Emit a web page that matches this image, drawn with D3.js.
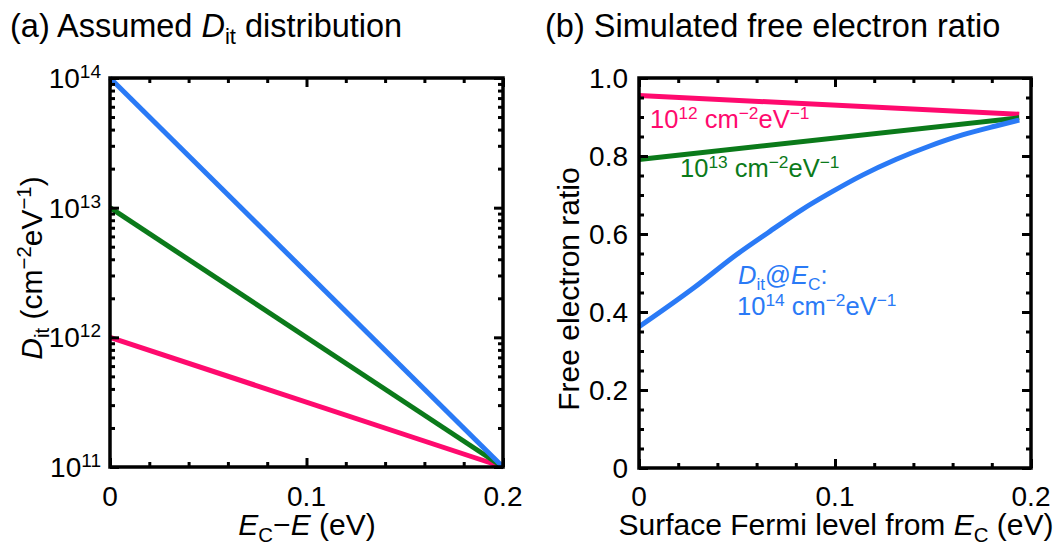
<!DOCTYPE html>
<html>
<head>
<meta charset="utf-8">
<script src="https://cdn.jsdelivr.net/npm/d3@7"></script>
<style>
  body { margin: 0; background: #fff; }
  svg { font-family: "Liberation Sans", Arial, sans-serif; }
</style>
</head>
<body>
<div id="chart"></div>
<script>
// ---- data ----
// panel (a): Dit vs EC-E, straight lines on the log axis
const energyA = [0, 0.2];
const ditPink = [1e12, 1e11];
const ditGreen = [1e13, 1e11];
const ditBlue = [1e14, 1e11];
const logTickValues = [1e11, 1e12, 1e13, 1e14];
const logTickExp = ["11", "12", "13", "14"];

// panel (b): free electron ratio vs surface Fermi level
const fermiEnds = [0, 0.194];
const ratioPink = [0.955, 0.907];
const ratioGreen = [0.791, 0.898];
const fermiBlue = [0, 0.028, 0.050, 0.066, 0.083, 0.097, 0.114, 0.131, 0.148, 0.165, 0.182, 0.194];
const ratioBlue = [0.362, 0.462, 0.548, 0.604, 0.662, 0.704, 0.751, 0.791, 0.825, 0.854, 0.877, 0.892];
const ratioTicks = [0, 0.2, 0.4, 0.6, 0.8, 1.0];
const ratioTickLabels = ["0", "0.2", "0.4", "0.6", "0.8", "1.0"];

const xTicks = [0, 0.1, 0.2];
const xTickLabels = ["0", "0.1", "0.2"];

const pink = "#ff0a6e", green = "#0b7a1a", blue = "#2a7af6";

const W = 1057, H = 546;
const svg = d3.select("#chart").append("svg").attr("width", W).attr("height", H);

// text with sub/superscripts: parts = [[text, mode]] mode: "", "sup", "sub", "i"
function rich(g, x, y, fs, parts, opts) {
  opts = opts || {};
  let t = g.append("text")
    .attr("x", x).attr("y", y)
    .attr("font-size", fs)
    .attr("fill", opts.fill || "#000")
    .attr("text-anchor", opts.anchor || "start");
  if (opts.transform) t.attr("transform", opts.transform);
  let shift = 0;
  parts.forEach(p => {
    let mode = p[1] || "";
    let target = 0, size = fs;
    if (mode == "sup") { target = -0.36 * fs; size = 0.68 * fs; }
    if (mode == "sub") { target = 0.22 * fs; size = 0.68 * fs; }
    let ts = t.append("tspan").text(p[0])
      .attr("font-size", size)
      .attr("dy", target - shift);
    if (mode == "i") ts.attr("font-style", "italic");
    shift = target;
  });
  return t;
}

function frameAndTicks(g, x, y, xMinor, yMajor, yMinor) {
  const [x0, x1] = x.range();
  const [y0, y1] = y.range();
  const major = 9, minor = 5;

  // bottom / top
  g.append("g").attr("transform", `translate(0,${y0})`)
    .call(d3.axisBottom(x).tickValues(xTicks).tickSize(-major).tickFormat(""));
  g.append("g").attr("transform", `translate(0,${y0})`)
    .call(d3.axisBottom(x).tickValues(xMinor).tickSize(-minor).tickFormat(""));
  g.append("g").attr("transform", `translate(0,${y1})`)
    .call(d3.axisTop(x).tickValues(xTicks).tickSize(-major).tickFormat(""));
  g.append("g").attr("transform", `translate(0,${y1})`)
    .call(d3.axisTop(x).tickValues(xMinor).tickSize(-minor).tickFormat(""));
  // left / right
  g.append("g").attr("transform", `translate(${x0},0)`)
    .call(d3.axisLeft(y).tickValues(yMajor).tickSize(-major).tickFormat(""));
  g.append("g").attr("transform", `translate(${x0},0)`)
    .call(d3.axisLeft(y).tickValues(yMinor).tickSize(-minor).tickFormat(""));
  g.append("g").attr("transform", `translate(${x1},0)`)
    .call(d3.axisRight(y).tickValues(yMajor).tickSize(-major).tickFormat(""));
  g.append("g").attr("transform", `translate(${x1},0)`)
    .call(d3.axisRight(y).tickValues(yMinor).tickSize(-minor).tickFormat(""));

  g.selectAll(".domain").remove();
  g.selectAll(".tick line").attr("stroke", "#000").attr("stroke-width", 3);

  g.append("rect")
    .attr("x", x0).attr("y", y1)
    .attr("width", x1 - x0).attr("height", y0 - y1)
    .attr("fill", "none").attr("stroke", "#000").attr("stroke-width", 3.5);
}

function addLine(g, xs, ys, x, y, color, curve) {
  const pts = xs.map((v, i) => [v, ys[i]]);
  g.append("path")
    .datum(pts)
    .attr("fill", "none")
    .attr("stroke", color)
    .attr("stroke-width", 5)
    .attr("d", d3.line().x(d => x(d[0])).y(d => y(d[1])).curve(curve || d3.curveLinear));
}

const xMinorTicks = d3.range(0.02, 0.2, 0.02).filter(v => Math.abs(v - 0.1) > 1e-6);
const tickFs = 28, labelFs = 30, titleFs = 32.5, noteFs = 25.5;

// ---------------- panel (a) ----------------
let ga = svg.append("g");
let xa = d3.scaleLinear().domain([0, 0.2]).range([110, 503]);
let ya = d3.scaleLog().domain([1e11, 1e14]).range([467, 78]);

let logMinor = [];
[1e11, 1e12, 1e13].forEach(dec => { for (let k = 2; k <= 9; k++) logMinor.push(dec * k); });

let lines_a = ga.append("g");
addLine(lines_a, energyA, ditPink, xa, ya, pink);
addLine(lines_a, energyA, ditGreen, xa, ya, green);
addLine(lines_a, energyA, ditBlue, xa, ya, blue);
frameAndTicks(ga, xa, ya, xMinorTicks, logTickValues, logMinor);

logTickValues.forEach((v, i) => {
  rich(ga, 101, ya(v) + 10, tickFs, [["10"], [logTickExp[i], "sup"]], { anchor: "end" });
});
xTicks.forEach((v, i) => {
  ga.append("text").attr("x", xa(v)).attr("y", 506).attr("font-size", tickFs)
    .attr("text-anchor", "middle").text(xTickLabels[i]);
});
rich(ga, 307, 535, labelFs, [["E", "i"], ["C", "sub"], ["\u2212"], ["E", "i"], [" (eV)"]], { anchor: "middle" });
rich(ga, 0, 0, labelFs,
  [["D", "i"], ["it", "sub"], [" (cm"], ["\u22122", "sup"], ["eV"], ["\u22121", "sup"], [")"]],
  { anchor: "middle", transform: "translate(42,268) rotate(-90)" });
rich(ga, 10, 37, titleFs, [["(a) Assumed "], ["D", "i"], ["it", "sub"], [" distribution"]]);

// ---------------- panel (b) ----------------
let gb = svg.append("g");
let xb = d3.scaleLinear().domain([0, 0.2]).range([639, 1031]);
let yb = d3.scaleLinear().domain([0, 1]).range([468, 78]);
let ratioMinor = d3.range(0.05, 1, 0.05).filter(v => Math.abs(v / 0.2 - Math.round(v / 0.2)) > 1e-6);

let lines_b = gb.append("g");
addLine(lines_b, fermiEnds, ratioPink, xb, yb, pink);
addLine(lines_b, fermiEnds, ratioGreen, xb, yb, green);
addLine(lines_b, fermiBlue, ratioBlue, xb, yb, blue, d3.curveMonotoneX);
frameAndTicks(gb, xb, yb, xMinorTicks, ratioTicks, ratioMinor);

ratioTicks.forEach((v, i) => {
  gb.append("text").attr("x", 628).attr("y", yb(v) + 10).attr("font-size", tickFs)
    .attr("text-anchor", "end").text(ratioTickLabels[i]);
});
xTicks.forEach((v, i) => {
  gb.append("text").attr("x", xb(v)).attr("y", 506).attr("font-size", tickFs)
    .attr("text-anchor", "middle").text(xTickLabels[i]);
});
rich(gb, 836, 535, labelFs, [["Surface Fermi level from "], ["E", "i"], ["C", "sub"], [" (eV)"]], { anchor: "middle" });
gb.append("text").attr("transform", "translate(579,289) rotate(-90)")
  .attr("font-size", labelFs).attr("text-anchor", "middle").text("Free electron ratio");
rich(gb, 545, 37, titleFs, [["(b) Simulated free electron ratio"]]);

// annotations
rich(gb, 650, 128, noteFs, [["10"], ["12", "sup"], [" cm"], ["\u22122", "sup"], ["eV"], ["\u22121", "sup"]], { fill: pink });
rich(gb, 680, 177, noteFs, [["10"], ["13", "sup"], [" cm"], ["\u22122", "sup"], ["eV"], ["\u22121", "sup"]], { fill: green });
rich(gb, 738, 284, noteFs, [["D", "i"], ["it", "sub"], ["@"], ["E", "i"], ["C", "sub"], [":"]], { fill: blue });
rich(gb, 737, 315, noteFs, [["10"], ["14", "sup"], [" cm"], ["\u22122", "sup"], ["eV"], ["\u22121", "sup"]], { fill: blue });
</script>
</body>
</html>
